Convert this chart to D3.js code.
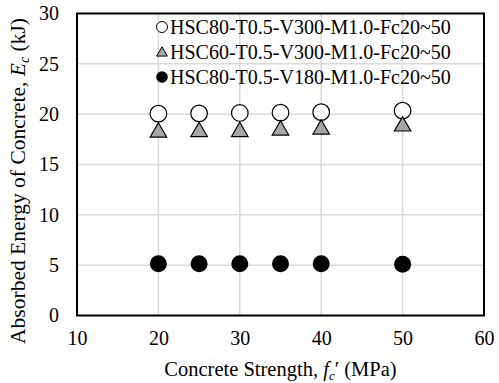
<!DOCTYPE html>
<html><head><meta charset="utf-8">
<script src="https://cdn.jsdelivr.net/npm/d3@7"></script>
<style>body{margin:0;background:#fff}</style>
</head><body><svg id="c" width="499" height="383"></svg>
<script>
const fc = [20, 25, 30, 35, 40, 50];
const seriesNames = ["HSC80-T0.5-V300-M1.0-Fc20~50", "HSC60-T0.5-V300-M1.0-Fc20~50", "HSC80-T0.5-V180-M1.0-Fc20~50"];
const sV300 = [20.05, 20.08, 20.12, 20.15, 20.2, 20.35];
const sHSC60 = [18.2, 18.25, 18.25, 18.4, 18.5, 18.8];
const sV180 = [5.15, 5.15, 5.15, 5.15, 5.15, 5.1];
const xTicks = [10, 20, 30, 40, 50, 60];
const yTicks = [0, 5, 10, 15, 20, 25, 30];

const FONT = "Liberation Serif";
const svg = d3.select("#c");
const L = 77, R = 484, T = 13.5, B = 315.5;
const x = d3.scaleLinear().domain([10, 60]).range([L, R]);
const y = d3.scaleLinear().domain([0, 30]).range([B, T]);

// gridlines
svg.append("g").selectAll("line").data(xTicks.slice(1, -1)).join("line")
  .attr("x1", d => x(d)).attr("x2", d => x(d)).attr("y1", T).attr("y2", B)
  .attr("stroke", "#d9d9d9").attr("stroke-width", 1.5);
svg.append("g").selectAll("line").data(yTicks.slice(1, -1)).join("line")
  .attr("y1", d => y(d)).attr("y2", d => y(d)).attr("x1", L).attr("x2", R)
  .attr("stroke", "#d9d9d9").attr("stroke-width", 1.5);

// axes (labels only)
const xAxis = svg.append("g").attr("transform", `translate(0,${B})`)
  .call(d3.axisBottom(x).tickValues(xTicks).tickSize(0).tickPadding(15));
const yAxis = svg.append("g").attr("transform", `translate(${L},0)`)
  .call(d3.axisLeft(y).tickValues(yTicks).tickSize(0).tickPadding(18));
[xAxis, yAxis].forEach(a => {
  a.select(".domain").remove();
  a.selectAll("text").style("font-family", FONT).style("font-size", "20px").attr("fill", "#000");
});

// frame
svg.append("rect").attr("x", L).attr("y", T).attr("width", R - L).attr("height", B - T)
  .attr("fill", "none").attr("stroke", "#000").attr("stroke-width", 2);

const tri = d3.symbol().type(d3.symbolTriangle);

// series
svg.append("g").selectAll("circle").data(fc).join("circle")
  .attr("cx", d => x(d)).attr("cy", (d, i) => y(sV300[i])).attr("r", 8.3)
  .attr("fill", "#fff").attr("stroke", "#000").attr("stroke-width", 1.2);
svg.append("g").selectAll("path").data(fc).join("path")
  .attr("transform", (d, i) => `translate(${x(d)},${y(sHSC60[i])})`)
  .attr("d", tri.size(118)()).attr("fill", "#a6a6a6").attr("stroke", "#000").attr("stroke-width", 1.2);
svg.append("g").selectAll("circle").data(fc).join("circle")
  .attr("cx", d => x(d)).attr("cy", (d, i) => y(sV180[i])).attr("r", 8.5)
  .attr("fill", "#000");

// legend
const lg = svg.append("g");
const ly = [27, 52, 77];
seriesNames.forEach((n, i) => {
  const cy = ly[i];
  if (i === 0) lg.append("circle").attr("cx", 162).attr("cy", cy).attr("r", 5.5).attr("fill", "#fff").attr("stroke", "#000").attr("stroke-width", 1);
  if (i === 1) lg.append("path").attr("transform", `translate(162,${cy + 1})`).attr("d", tri.size(50)()).attr("fill", "#a6a6a6").attr("stroke", "#000").attr("stroke-width", 1);
  if (i === 2) lg.append("circle").attr("cx", 162).attr("cy", cy).attr("r", 5.8).attr("fill", "#000");
  lg.append("text").attr("x", 170).attr("y", cy).attr("dy", "0.35em")
    .style("font-family", FONT).style("font-size", "20px").text(n);
});

// axis titles
const xt = svg.append("text").attr("x", (L + R) / 2).attr("y", 376).attr("text-anchor", "middle")
  .style("font-family", FONT).style("font-size", "20.5px");
xt.append("tspan").text("Concrete Strength, ");
xt.append("tspan").style("font-style", "italic").text("f");
xt.append("tspan").style("font-style", "italic").style("font-size", "13px").attr("dy", 4).text("c");
xt.append("tspan").attr("dy", -4).text("\u2032 (MPa)");

const yt = svg.append("text").attr("transform", `translate(25,181) rotate(-90)`).attr("text-anchor", "middle")
  .style("font-family", FONT).style("font-size", "21.5px");
yt.append("tspan").text("Absorbed Energy of Concrete, ");
yt.append("tspan").style("font-style", "italic").text("E");
yt.append("tspan").style("font-style", "italic").style("font-size", "14px").attr("dy", 4).text("c");
yt.append("tspan").attr("dy", -4).text(" (kJ)");
</script></body></html>
